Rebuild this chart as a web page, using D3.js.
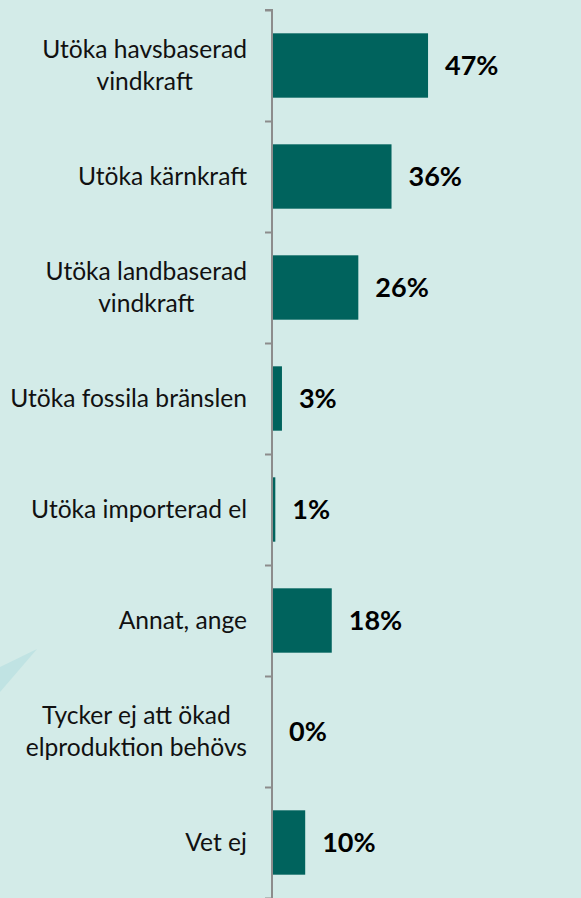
<!DOCTYPE html>
<html>
<head>
<meta charset="utf-8">
<script src="https://cdn.jsdelivr.net/npm/d3@7"></script>
<style>
  html, body { margin: 0; padding: 0; background: #d3ebe8; }
  svg { display: block; }
</style>
</head>
<body>
<div id="chart"></div>
<script>
var width = 581,
    height = 898;

var categories = [
  ["Utöka havsbaserad", "vindkraft"],
  ["Utöka kärnkraft"],
  ["Utöka landbaserad", "vindkraft"],
  ["Utöka fossila bränslen"],
  ["Utöka importerad el"],
  ["Annat, ange"],
  ["Tycker ej att ökad", "elproduktion behövs"],
  ["Vet ej"]
];
var values = [47, 36, 26, 3, 1, 18, 0, 10];

var axisX = 272,
    axisTop = 10,
    axisBottom = 898;

var x = d3.scaleLinear()
  .domain([0, 100])
  .range([axisX, axisX + 332]);

var y = d3.scaleBand()
  .domain(d3.range(values.length))
  .range([axisTop, axisBottom])
  .paddingInner(0.42)
  .paddingOuter(0.21);

var svg = d3.select("#chart").append("svg")
  .attr("width", width)
  .attr("height", height);

svg.append("rect")
  .attr("width", width)
  .attr("height", height)
  .attr("fill", "#d3ebe8");

// decorative light shape bottom-left
svg.append("path")
  .attr("d", "M0,667L37,649L0,692Z")
  .attr("fill", "#c0e3e3");

// bars
svg.selectAll("rect.bar")
  .data(values)
  .enter().append("rect")
  .attr("class", "bar")
  .attr("x", x(0) + 1)
  .attr("y", function(d, i) { return y(i); })
  .attr("width", function(d) { return Math.max(0, x(d) - x(0) - 1); })
  .attr("height", y.bandwidth())
  .attr("fill", "#00635d");

// value labels
svg.selectAll("text.val")
  .data(values)
  .enter().append("text")
  .attr("class", "val")
  .attr("x", function(d) { return x(d) + 17; })
  .attr("y", function(d, i) { return y(i) + y.bandwidth() / 2; })
  .attr("dy", "0.35em")
  .style("font-family", "Lato, 'Liberation Sans', sans-serif")
  .style("font-weight", "bold")
  .style("font-size", "27px")
  .attr("fill", "#000")
  .text(function(d) { return d + "%"; });

// axis with ticks at band boundaries
var axis = d3.axisLeft(d3.scaleLinear().domain([0, values.length]).range([axisTop, axisBottom]))
  .ticks(values.length)
  .tickSize(7)
  .tickFormat("");

var ax = svg.append("g")
  .attr("transform", "translate(" + axisX + ",0)")
  .call(axis);
ax.select(".domain").attr("stroke", "#8c8c8c").attr("stroke-width", 2)
  .attr("d", "M-7," + axisTop + "H0V" + axisBottom);
ax.selectAll(".tick line").attr("stroke", "#8c8c8c").attr("stroke-width", 2);

// category labels: right-aligned block, lines centred
var lineH = 32;
var labels = svg.selectAll("g.lab")
  .data(categories)
  .enter().append("g")
  .attr("class", "lab");

labels.each(function(lines, i) {
  var g = d3.select(this);
  var cy = y(i) + y.bandwidth() / 2;
  var ts = g.selectAll("text")
    .data(lines)
    .enter().append("text")
    .attr("y", function(d, j) { return cy + (j - (lines.length - 1) / 2) * lineH; })
    .attr("dy", "0.35em")
    .attr("text-anchor", "middle")
    .style("font-family", "Lato, 'Liberation Sans', sans-serif")
    .style("font-size", "24.6px")
    .attr("fill", "#111")
    .text(function(d) { return d; });
  var maxW = 0;
  ts.each(function() { maxW = Math.max(maxW, this.getComputedTextLength()); });
  ts.attr("x", 247 - maxW / 2);
});
</script>
</body>
</html>
